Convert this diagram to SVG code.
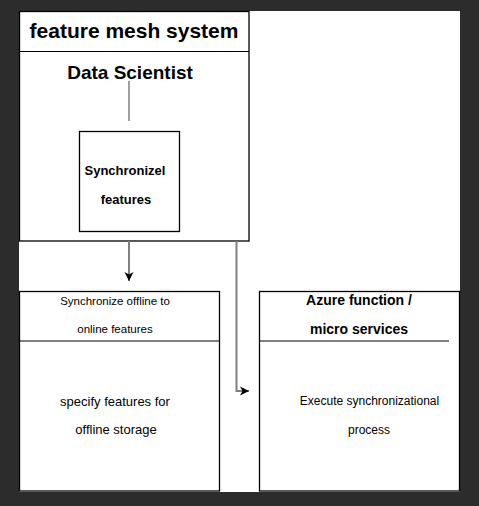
<svg xmlns="http://www.w3.org/2000/svg" width="479" height="506" viewBox="0 0 479 506">
<defs>
<style>
.box{fill:#fff;stroke:#000;stroke-width:1.3}
.div{stroke:#000;stroke-width:1.2;fill:none}
.t{font-family:"Liberation Sans",Arial,sans-serif;fill:#000;text-anchor:middle}
.b{font-weight:bold}
.edge{stroke:#808080;stroke-width:2;fill:none}
</style>
<marker id="ah" markerWidth="12" markerHeight="12" refX="9" refY="6" orient="auto" markerUnits="userSpaceOnUse">
<path d="M0,1.5 L9,6 L0,10.5 L2.5,6 Z" fill="#000"/>
</marker>
</defs>
<rect x="0" y="0" width="479" height="506" fill="#2c2c2c"/>
<rect x="19" y="11" width="441" height="481" fill="#fff"/>
<g id="feature-mesh-system">
<rect class="box" x="19.5" y="11.5" width="229.5" height="229.5"/>
<line class="div" x1="19.5" y1="51.5" x2="249" y2="51.5"/>
<text class="t b" x="134" y="38" font-size="21">feature mesh system</text>
<text class="t b" x="130" y="78.5" font-size="19">Data Scientist</text>
<line x1="129" y1="81" x2="129" y2="121" stroke="#808080" stroke-width="1.5"/>
</g>
<g id="synchronizel-features">
<rect class="box" x="79.5" y="131.5" width="100" height="100"/>
<text class="t b" x="125" y="175" font-size="13">Synchronizel</text>
<text class="t b" x="126" y="203.5" font-size="13">features</text>
</g>
<g id="sync-offline">
<rect class="box" x="19.5" y="291.5" width="200" height="199.5"/>
<line class="div" x1="19.5" y1="341" x2="219.5" y2="341"/>
<text class="t" x="115" y="304.5" font-size="11.5">Synchronize offline to</text>
<text class="t" x="115" y="333" font-size="11.5">online features</text>
<text class="t" x="115" y="405.5" font-size="13">specify features for</text>
<text class="t" x="116" y="434" font-size="13">offline storage</text>
</g>
<g id="azure-function">
<rect class="box" x="259.5" y="291.5" width="200" height="199.5"/>
<line class="div" x1="259.5" y1="341" x2="449" y2="341"/>
<text class="t b" x="359" y="305" font-size="14">Azure function /</text>
<text class="t b" x="359" y="333.5" font-size="14">micro services</text>
<text class="t" x="369.5" y="405" font-size="12" fill="#222">Execute synchronizational</text>
<text class="t" x="369" y="433.5" font-size="12" fill="#222">process</text>
</g>
<g id="connectors">
<line class="edge" x1="129" y1="241" x2="129" y2="281" marker-end="url(#ah)"/>
<polyline class="edge" points="236.5,241 236.5,391 249,391" marker-end="url(#ah)"/>
</g>
</svg>
